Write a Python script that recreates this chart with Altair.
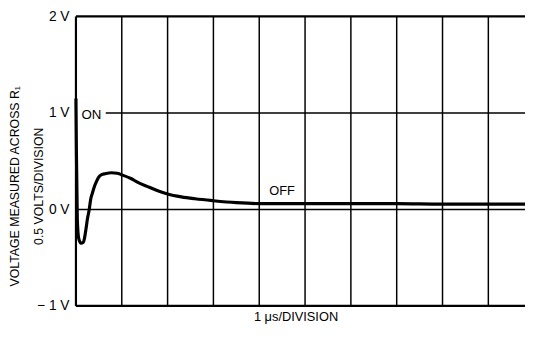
import altair as alt
import pandas as pd

FONT = "Liberation Sans, Arial, sans-serif"

# Curve (time in µs / divisions, voltage in V)
time_us = [0, 0.01, 0.03, 0.06, 0.11, 0.16, 0.19, 0.22, 0.25, 0.29, 0.32, 0.36,
           0.39, 0.44, 0.49, 0.56, 0.64, 0.77, 0.9, 0.99, 1.2, 1.35, 1.6, 1.8,
           2.0, 2.3, 2.6, 3.0, 3.5, 4.0, 5.0, 6.0, 7.0, 8.0, 9.0, 9.8]
volts = [1.15, 0.6, -0.1, -0.3, -0.35, -0.34, -0.29, -0.2, -0.1, 0.0, 0.1, 0.17,
         0.22, 0.28, 0.33, 0.36, 0.37, 0.38, 0.375, 0.36, 0.32, 0.28, 0.23, 0.19,
         0.16, 0.13, 0.11, 0.09, 0.07, 0.06, 0.06, 0.06, 0.06, 0.055, 0.055, 0.055]

# Grid
grid_t = [1, 2, 3, 4, 5, 6, 7, 8, 9]
grid_v = [0, 1]
grid_v_start = [0, 0.65]
border_v = [-1, 2]
y_ticks = [-1, 0, 1, 2]
x_end = 9.8

# Labels
on_text, on_t, on_v = ["ON"], [0.12], [0.98]
off_text, off_t, off_v = ["OFF"], [4.5], [0.19]

curve_df = pd.DataFrame({"t": time_us, "v": volts})
vgrid_df = pd.DataFrame({"t": grid_t})
hgrid_df = pd.DataFrame({"v": grid_v, "t": grid_v_start, "t2": [x_end] * len(grid_v)})
border_df = pd.DataFrame({"v": border_v, "t": [0] * len(border_v), "t2": [x_end] * len(border_v)})
left_df = pd.DataFrame({"t": [0]})

xscale = alt.Scale(domain=[0, x_end], nice=False, zero=False)
yscale = alt.Scale(domain=[-1, 2], nice=False, zero=False)

hgrid = alt.Chart(hgrid_df).mark_rule(color="black", strokeWidth=1.5).encode(
    x=alt.X("t:Q", scale=xscale, axis=alt.Axis(
        title="1 μs/DIVISION", labels=False, ticks=False, domain=False, grid=False,
        titleFont=FONT, titleFontSize=13, titleFontWeight="normal", titleColor="black",
        titlePadding=5, titleX=223, titleAlign="center")),
    x2="t2:Q",
    y=alt.Y("v:Q", scale=yscale, axis=alt.Axis(
        values=y_ticks,
        labelExpr="datum.value < 0 ? '\u2212 1 V' : datum.value + ' V'",
        ticks=False, domain=False, grid=False, labelPadding=7,
        labelFont=FONT, labelFontSize=14, labelColor="black",
        title=["VOLTAGE MEASURED ACROSS R₁", "0.5 VOLTS/DIVISION"],
        titleFont=FONT, titleFontSize=12.5, titleFontWeight="normal", titleColor="black",
        titleAngle=-90, titleX=-55, titleY=172, titleAlign="center",
        titleBaseline="bottom", titleLineHeight=24)),
)

borders = alt.Chart(border_df).mark_rule(color="black", strokeWidth=2.2).encode(
    x="t:Q", x2="t2:Q", y="v:Q")

vgrid = alt.Chart(vgrid_df).mark_rule(color="black", strokeWidth=1.5).encode(
    x="t:Q", y=alt.datum(-1), y2=alt.datum(2))

left_axis = alt.Chart(left_df).mark_rule(color="black", strokeWidth=2.2).encode(
    x="t:Q", y=alt.datum(-1), y2=alt.datum(2))

curve = alt.Chart(curve_df).mark_line(color="black", strokeWidth=3.2,
                                      interpolate="monotone").encode(
    x="t:Q", y="v:Q")

on_label = alt.Chart(pd.DataFrame({"text": on_text, "t": on_t, "v": on_v})).mark_text(
    font=FONT, fontSize=13.5, color="black", baseline="middle", align="left").encode(
    x="t:Q", y="v:Q", text="text:N")

off_label = alt.Chart(pd.DataFrame({"text": off_text, "t": off_t, "v": off_v})).mark_text(
    font=FONT, fontSize=13, color="black", baseline="middle", align="center").encode(
    x="t:Q", y="v:Q", text="text:N")

chart = alt.layer(hgrid, borders, vgrid, left_axis, curve, on_label, off_label).properties(
    width=456, height=294,
    autosize=alt.AutoSizeParams(type="none"),
    padding={"left": 69, "top": 6, "right": 0, "bottom": 25},
    background="white",
).configure_view(stroke=None)

chart.save("out.html", embed_options={"renderer": "svg", "actions": False})
